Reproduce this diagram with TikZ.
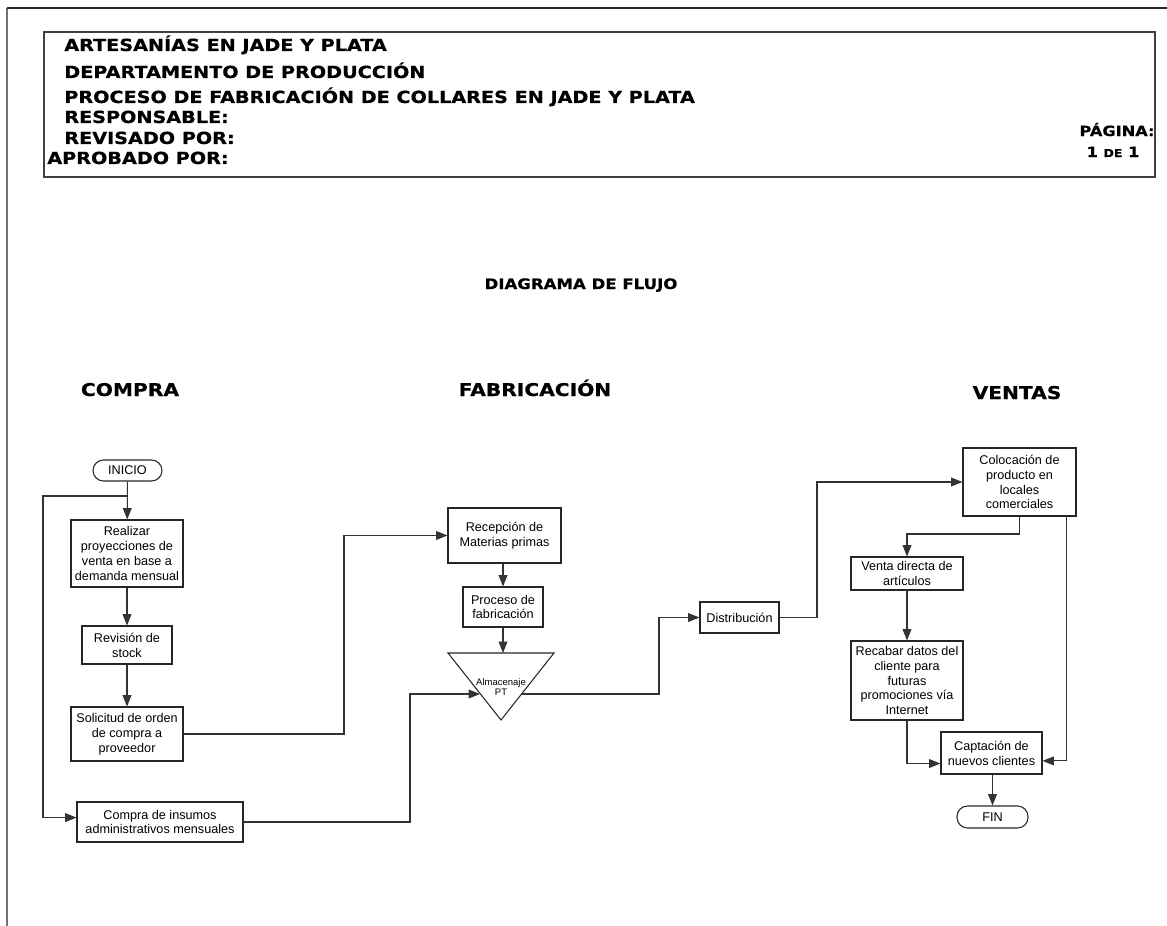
\documentclass[tikz,border=0pt]{standalone}
\usepackage{fontspec}
\setmainfont{Liberation Sans}
\newfontfamily\capfont[FakeStretch=1.15, FakeBold=0.6]{DejaVu Sans}
\usetikzlibrary{arrows.meta}

\begin{document}
\begin{tikzpicture}[x=0.02cm, y=-0.02cm,
	caja/.style={draw=black!85, line width=0.6pt, align=center, inner sep=1pt, font=\fontsize{7.2}{8.5}\selectfont},
	terminal/.style={caja, rounded corners=0.21cm},
	flecha/.style={draw=black!80, line width=0.6pt, -{Triangle[length=6.5pt,width=5pt]}},
	linea/.style={draw=black!80, line width=0.6pt},
	encabezado/.style={anchor=base west, inner sep=0pt, font=\capfont\bfseries\fontsize{9.5}{9.5}\selectfont},
	seccion/.style={anchor=base, inner sep=0pt, font=\capfont\bfseries\fontsize{10}{10}\selectfont}]
		%%%%% START %%%%%
		\useasboundingbox (0,0) rectangle (1167,926);
		
		\draw[line width=1.1pt, color=black!55] (7,926) -- (7,8);
		\draw[line width=0.8pt, color=black!85] (7,8) -- (1167,8);
		\draw[line width=0.6pt, color=black!75] (44,32) rectangle (1155,177);
		
		\node[encabezado] (empresa) at (64,51) {ARTESANÍAS EN JADE Y PLATA};
		\node[encabezado] (depto) at (64,78) {DEPARTAMENTO DE PRODUCCIÓN};
		\node[encabezado] (proceso-t) at (64,103) {PROCESO DE FABRICACIÓN DE COLLARES EN JADE Y PLATA};
		\node[encabezado] (resp) at (64,123) {RESPONSABLE:};
		\node[encabezado] (rev) at (64,144) {REVISADO POR:};
		\node[encabezado] (aprob) at (47,164) {APROBADO POR:};
		\node[encabezado, anchor=base, font=\capfont\bfseries\fontsize{8}{8}\selectfont] (pagina) at (1117,136) {PÁGINA:};
		\node[encabezado, anchor=base, font=\capfont\bfseries\fontsize{8}{8}\selectfont] (paginas) at (1113,157) {1 {\fontsize{6.2}{6.2}\selectfont DE} 1};
		
		\node[seccion, font=\capfont\bfseries\fontsize{8.2}{8.2}\selectfont] (titulo) at (581,289) {DIAGRAMA DE FLUJO};
		\node[seccion] (compra-t) at (130,396) {COMPRA};
		\node[seccion] (fabrica-t) at (535,396) {FABRICACIÓN};
		\node[seccion] (ventas-t) at (1017,399) {VENTAS};
		
		%%%%% COMPRA %%%%%
		\node[terminal, minimum width=1.38cm, minimum height=0.42cm] (inicio) at (127.5,470.5) {INICIO};
		\node[caja, minimum width=2.24cm, minimum height=1.34cm] (realizar) at (127,553.5) {Realizar\\proyecciones de\\venta en base a\\demanda mensual};
		\node[caja, minimum width=1.8cm, minimum height=0.76cm] (revision) at (127,645) {Revisión de\\stock};
		\node[caja, minimum width=2.24cm, minimum height=1.08cm] (solicitud) at (127,734) {Solicitud de orden\\de compra a\\proveedor};
		\node[caja, minimum width=3.32cm, minimum height=0.8cm] (insumos) at (160,822) {Compra de insumos\\administrativos mensuales};
		
		\coordinate (ramal) at (127,496);
		\draw[flecha] (inicio) -- (realizar);
		\draw[flecha] (ramal) -- (43,496) |- ([yshift=2.5pt]insumos.west);
		\draw[flecha] (realizar) -- (revision);
		\draw[flecha] (revision) -- (solicitud);
		
		%%%%% FABRICACION %%%%%
		\node[caja, minimum width=2.26cm, minimum height=1.1cm] (recepcion) at (504.5,535.5) {Recepción de\\Materias primas};
		\node[caja, minimum width=1.6cm, minimum height=0.8cm] (fabricacion) at (503,607) {Proceso de\\fabricación};
		\draw[line width=0.6pt, color=black!85] (448,653) -- (554,653) -- (501,720) -- cycle;
		\node[inner sep=0pt, align=center, font=\fontsize{5.4}{5.7}\selectfont] (almacen) at (501,687) {Almacenaje\\PT};
		\coordinate (almacen-n) at (503,653);
		\coordinate (almacen-o) at (480,694);
		\coordinate (almacen-e) at (522,694);
		
		\draw[flecha] (solicitud.east) -- (344,734) |- (recepcion.west);
		\draw[flecha] (insumos.east) -- (410,822) |- (almacen-o);
		\draw[flecha] (recepcion.south -| fabricacion.north) -- (fabricacion.north);
		\draw[flecha] (fabricacion) -- (almacen-n);
		
		%%%%% VENTAS %%%%%
		\node[caja, minimum width=1.58cm, minimum height=0.62cm] (distribucion) at (739.5,617.5) {Distribución};
		\node[caja, minimum width=2.26cm, minimum height=1.36cm] (colocacion) at (1019.5,482) {Colocación de\\producto en\\locales\\comerciales};
		\node[caja, minimum width=2.24cm, minimum height=0.66cm] (venta) at (907,573.5) {Venta directa de\\artículos};
		\node[caja, minimum width=2.24cm, minimum height=1.58cm] (recabar) at (907,680.5) {Recabar datos del\\cliente para\\futuras\\promociones vía\\Internet};
		\node[caja, minimum width=2.02cm, minimum height=0.84cm] (captacion) at (991.5,753) {Captación de\\nuevos clientes};
		\node[terminal, minimum width=1.42cm, minimum height=0.44cm] (fin) at (992.5,817) {FIN};
		
		\draw[flecha] (almacen-e) -- (659,694) |- (distribucion.west);
		\draw[flecha] (distribucion.east) -- (817,617.5) |- (colocacion.west);
		\draw[flecha] (colocacion.south) -- (1019.5,534) -| (venta.north);
		\draw[flecha] (venta) -- (recabar);
		\draw[flecha] (recabar.south) |- ([yshift=-6pt]captacion.west);
		\draw[flecha] ([xshift=-5.5pt]colocacion.south east) |- ([yshift=-4.5pt]captacion.east);
		\draw[flecha] (captacion.south -| fin.north) -- (fin.north);
		
		%%%%% END %%%%%
	\end{tikzpicture}
\end{document}
